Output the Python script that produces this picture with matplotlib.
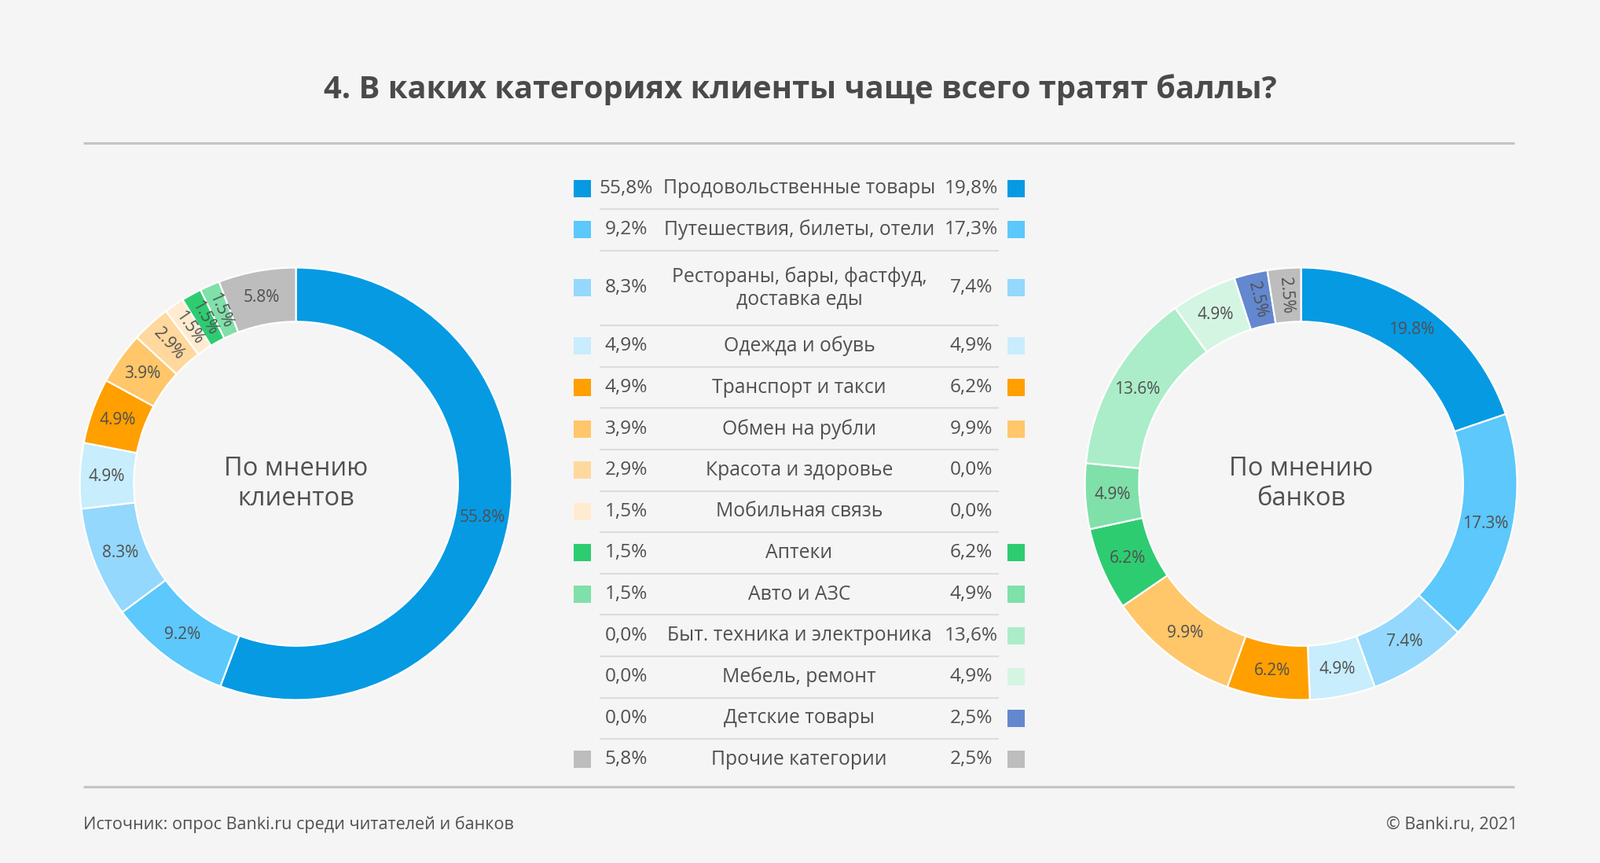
import matplotlib
matplotlib.use("Agg")
import matplotlib.pyplot as plt
from matplotlib.patches import Rectangle
import numpy as np

plt.rcParams['font.family'] = ['Open Sans', 'DejaVu Sans']

# ---------------- data ----------------
title = "4. В каких категориях клиенты чаще всего тратят баллы?"
categories = ["Продовольственные товары", "Путешествия, билеты, отели",
              "Рестораны, бары, фастфуд,\nдоставка еды", "Одежда и обувь",
              "Транспорт и такси", "Обмен на рубли", "Красота и здоровье",
              "Мобильная связь", "Аптеки", "Авто и АЗС",
              "Быт. техника и электроника", "Мебель, ремонт",
              "Детские товары", "Прочие категории"]
clients = [55.8, 9.2, 8.3, 4.9, 4.9, 3.9, 2.9, 1.5, 1.5, 1.5, 0.0, 0.0, 0.0, 5.8]
banks = [19.8, 17.3, 7.4, 4.9, 6.2, 9.9, 0.0, 0.0, 6.2, 4.9, 13.6, 4.9, 2.5, 2.5]
colors = ["#069AE3", "#5CC8FB", "#94D8FD", "#C8EDFD", "#FF9F00", "#FFC66A",
          "#FFD89E", "#FFEBCF", "#2ECC71", "#80E0A9", "#ABEDC8", "#D5F5E3",
          "#6388CF", "#BDBDBD"]
center_labels = ["По мнению\nклиентов", "По мнению\nбанков"]
source = "Источник: опрос Banki.ru среди читателей и банков"
copyright_ = "© Banki.ru, 2021"

# ---------------- style ----------------
BG = "#F5F5F5"
TXT = "#505050"
W, H = 2036, 1098
fig = plt.figure(figsize=(W / 100, H / 100), dpi=100, facecolor=BG)

# overlay axes in pixel coordinates
ov = fig.add_axes([0, 0, 1, 1])
ov.set_xlim(0, W)
ov.set_ylim(H, 0)
ov.axis("off")
ov.patch.set_alpha(0)

ov.text(W / 2, 114, title, ha="center", va="center", fontsize=28.7,
        fontweight="bold", color="#4A4A4A")
ov.plot([106, 1927], [182, 182], color="#C4C4C4", lw=2.2, solid_capstyle="butt")
ov.plot([106, 1927], [1001, 1001], color="#C4C4C4", lw=2.2, solid_capstyle="butt")
ov.text(106, 1049, source, ha="left", va="center", fontsize=15.5, color=TXT)
ov.text(1931, 1049, copyright_, ha="right", va="center", fontsize=15.5, color=TXT)

# ---------------- table ----------------
row_unit = 52.6
extra_line = 42.8
y = 213.5
sq = 22
x_sq_l, x_pct_l, x_cat, x_pct_r, x_sq_r = 741, 797, 1017, 1236, 1293
fmt = lambda v: f"{v:.1f}%".replace(".", ",")
n = len(categories)
for i, (cat, c, b, col) in enumerate(zip(categories, clients, banks, colors)):
    h = row_unit + extra_line * (cat.count("\n"))
    yc = y + h / 2
    if c > 0:
        ov.add_patch(Rectangle((x_sq_l - sq / 2, yc - sq / 2), sq, sq, color=col, lw=0))
    if b > 0:
        ov.add_patch(Rectangle((x_sq_r - sq / 2, yc - sq / 2), sq, sq, color=col, lw=0))
    ov.text(x_pct_l, yc, fmt(c), ha="center", va="center", fontsize=17.6, color=TXT)
    ov.text(x_pct_r, yc, fmt(b), ha="center", va="center", fontsize=17.6, color=TXT)
    ov.text(x_cat, yc, cat, ha="center", va="center", fontsize=17.8, color=TXT,
            multialignment="center", linespacing=1.2)
    y += h
    if i < n - 1:
        ov.plot([763, 1271], [y, y], color="#DCDCDC", lw=1.5, solid_capstyle="butt")

# ---------------- donuts ----------------
R = 275
centers = [(376.6, 615.5), (1655.6, 615.5)]
for (cx, cy), vals, clab in zip(centers, [clients, banks], center_labels):
    ax = fig.add_axes([(cx - R) / W, 1 - (cy + R) / H, 2 * R / W, 2 * R / H])
    ax.set_facecolor("none")
    sel = [(v, col) for v, col in zip(vals, colors) if v > 0]
    v_ = [s[0] for s in sel]
    c_ = [s[1] for s in sel]
    wedges, _ = ax.pie(v_, colors=c_, startangle=90, counterclock=False,
                       radius=1.0,
                       wedgeprops=dict(width=0.25, edgecolor="white", linewidth=1.6))
    ax.set_xlim(-1, 1)
    ax.set_ylim(-1, 1)
    ax.set_aspect("equal")
    ax.axis("off")
    for w, v in zip(wedges, v_):
        ang = (w.theta1 + w.theta2) / 2
        r = 0.875
        x, yy = r * np.cos(np.radians(ang)), r * np.sin(np.radians(ang))
        rot = 0
        if v < 3:
            rot = ang - 180
            if rot < -180:
                rot += 360
        ax.text(x, yy, f"{v:.1f}%", ha="center", va="center", fontsize=15,
                color=TXT, rotation=rot, rotation_mode="anchor")
    ax.text(0, 0, clab, ha="center", va="center", fontsize=23.5, color=TXT,
            linespacing=1.2, multialignment="center")

fig.savefig("out.png", dpi=100, facecolor=BG)
